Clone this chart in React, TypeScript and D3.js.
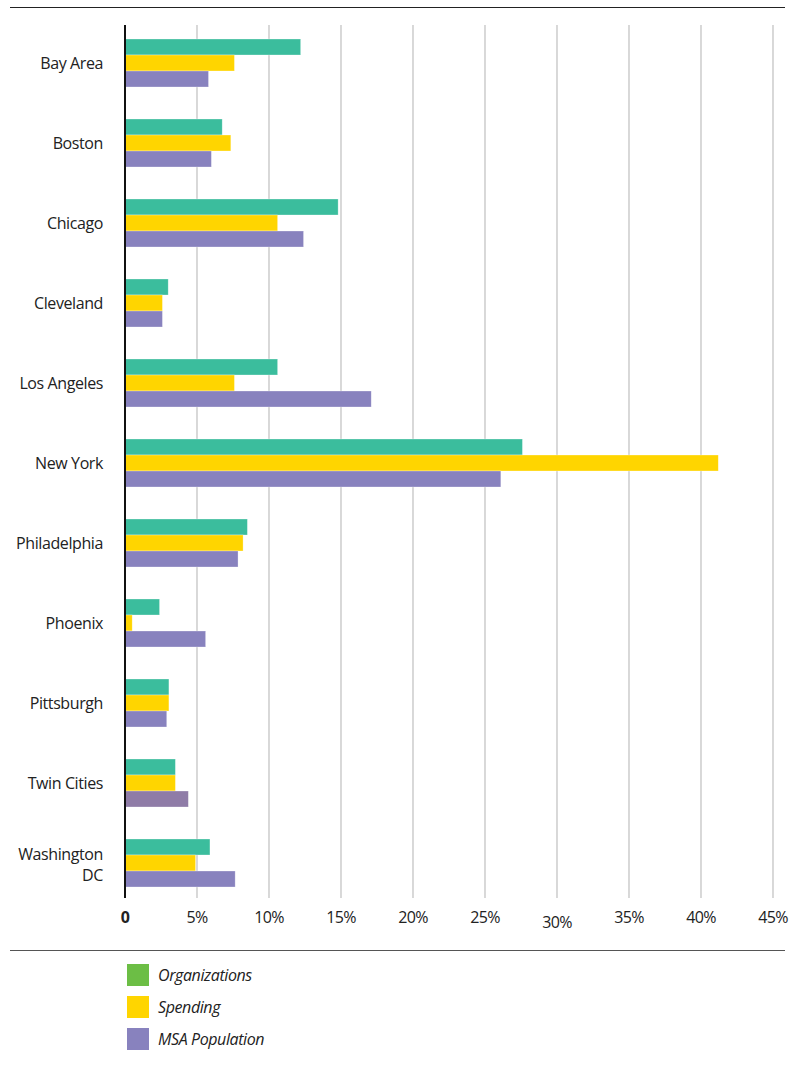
import * as d3 from "d3";

const CITIES = [
  "Bay Area",
  "Boston",
  "Chicago",
  "Cleveland",
  "Los Angeles",
  "New York",
  "Philadelphia",
  "Phoenix",
  "Pittsburgh",
  "Twin Cities",
  "Washington DC",
];
const ORGANIZATIONS = [12.2, 6.75, 14.8, 3.0, 10.6, 27.6, 8.5, 2.4, 3.05, 3.5, 5.9];
const SPENDING = [7.6, 7.35, 10.6, 2.6, 7.6, 41.2, 8.2, 0.5, 3.05, 3.5, 4.9];
const MSA_POPULATION = [5.8, 6.0, 12.4, 2.6, 17.1, 26.1, 7.85, 5.6, 2.9, 4.4, 7.65];
const SERIES = ["Organizations", "Spending", "MSA Population"];
const TICKS = [0, 5, 10, 15, 20, 25, 30, 35, 40, 45];

const BAR_COLORS = ["#3bbd9d", "#ffd500", "#8882be"];
const LEGEND_COLORS = ["#6cbe45", "#ffd500", "#8882be"];
const FONT = "'Open Sans', 'Noto Sans', sans-serif";

export default function App() {
  const W = 803;
  const H = 1065;
  const x = d3.scaleLinear().domain([0, 45]).range([125, 773]);
  const y = d3.scaleBand().domain(CITIES).range([23, 903]).paddingInner(0.4).paddingOuter(0.2);
  const sub = d3.scaleBand().domain(SERIES).range([0, y.bandwidth()]);
  const values = [ORGANIZATIONS, SPENDING, MSA_POPULATION];
  const plotTop = 25;
  const plotBottom = 898;

  return (
    <svg
      width={W}
      height={H}
      style={{ position: "absolute", left: 0, top: 0, background: "#fff" }}
      fontFamily={FONT}
    >
      <line x1={10} x2={785} y1={7.5} y2={7.5} stroke="#222" strokeWidth={1.2} />
      <line x1={10} x2={785} y1={950.5} y2={950.5} stroke="#555" strokeWidth={1.2} />

      {TICKS.filter((t) => t > 0).map((t) => (
        <line key={t} x1={x(t)} x2={x(t)} y1={plotTop} y2={plotBottom} stroke="#c4c4c4" strokeWidth={1.3} />
      ))}

      {CITIES.map((c, i) => (
        <g key={c}>
          {SERIES.map((s, j) => {
            const v = values[j][i];
            const fill = c === "Twin Cities" && j === 2 ? "#8f7ca7" : BAR_COLORS[j];
            return (
              <rect
                key={s}
                x={x(0)}
                y={(y(c) ?? 0) + (sub(s) ?? 0)}
                width={x(v) - x(0)}
                height={sub.bandwidth()}
                fill={fill}
                stroke="#fff"
                strokeOpacity={0.5}
                strokeWidth={0.6}
              />
            );
          })}
          {c === "Washington DC" ? (
            <text x={103} y={(y(c) ?? 0) + y.bandwidth() / 2} textAnchor="end" fontSize={16} fill="#222" letterSpacing={-0.4}>
              <tspan x={103} dy="-0.2em">Washington</tspan>
              <tspan x={103} dy="1.35em">DC</tspan>
            </text>
          ) : (
            <text
              x={103}
              y={(y(c) ?? 0) + y.bandwidth() / 2}
              dy="0.35em"
              textAnchor="end"
              fontSize={16}
              fill="#222"
              letterSpacing={-0.4}
            >
              {c}
            </text>
          )}
        </g>
      ))}

      <line x1={x(0)} x2={x(0)} y1={plotTop} y2={plotBottom} stroke="#111" strokeWidth={2} />

      {TICKS.map((t) => (
        <text
          key={t}
          x={x(t)}
          y={t === 30 ? 928 : 923}
          textAnchor="middle"
          fontSize={16}
          fontWeight={t === 0 ? 700 : 400}
          fill="#222"
          letterSpacing={-0.6}
        >
          {t === 0 ? "0" : `${t}%`}
        </text>
      ))}

      {SERIES.map((s, j) => (
        <g key={s} transform={`translate(127,${964 + j * 32})`}>
          <rect width={22} height={22} fill={LEGEND_COLORS[j]} />
          <text x={31} y={11} dy="0.35em" fontSize={16} fontStyle="italic" fill="#222" letterSpacing={-0.4}>
            {s}
          </text>
        </g>
      ))}
    </svg>
  );
}
